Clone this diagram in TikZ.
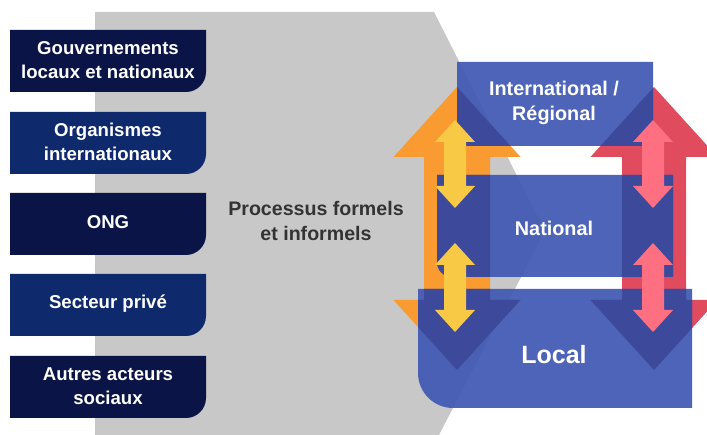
\documentclass[tikz,border=0pt]{standalone}
\usepackage{fontspec}
\setmainfont{Liberation Sans}
\definecolor{navy}{HTML}{0B1446}
\definecolor{navyb}{HTML}{0E2A6D}
\definecolor{procgray}{HTML}{C8C8C8}
\definecolor{boxblue}{HTML}{4159B4}
\definecolor{overblue}{HTML}{3D4A9C}
\definecolor{arrorange}{HTML}{F99B30}
\definecolor{arrred}{HTML}{E04B5E}
\definecolor{arryellow}{HTML}{F8C945}
\definecolor{arrpink}{HTML}{FF6F82}
\definecolor{txtgray}{HTML}{333333}
% left actor box: #1 top y
\newcommand{\actorpath}[1]{(10,#1) -- (206,#1) -- (206,#1+42) .. controls (206,#1+53) and (197,#1+62) .. (186,#1+62) -- (10,#1+62) -- cycle}
% double arrow: cx, top tip, head length, bottom tip, head half width, shaft half width
\newcommand{\dblpath}[6]{(#1,#2) -- (#1+#5,#2+#3) -- (#1+#6,#2+#3) -- (#1+#6,#4-#3) -- (#1+#5,#4-#3) -- (#1,#4) -- (#1-#5,#4-#3) -- (#1-#6,#4-#3) -- (#1-#6,#2+#3) -- (#1-#5,#2+#3) -- cycle}
\newcommand{\intlpath}{(457,62) -- (653,62) -- (653,146) -- (467,146) .. controls (461.5,146) and (457,141.5) .. (457,136) -- cycle}
\newcommand{\natlpath}{(437,175) -- (673,175) -- (673,277) -- (452,277) .. controls (443.7,277) and (437,270.3) .. (437,262) -- cycle}
\newcommand{\localpath}{(418,289) -- (692,289) -- (692,408) -- (453,408) .. controls (433.7,408) and (418,392.3) .. (418,373) -- cycle}
\begin{document}
\begin{tikzpicture}[x=1pt,y=-1pt,
  actor/.style={text=white,font=\bfseries\fontsize{18.6}{24}\selectfont,align=center,inner sep=0pt},
  proctext/.style={text=txtgray,font=\bfseries\fontsize{19.6}{25}\selectfont,align=center,inner sep=0pt},
  leveltext/.style={text=white,font=\bfseries\fontsize{19.8}{25}\selectfont,align=center,inner sep=0pt},
  leveltextbig/.style={text=white,font=\bfseries\fontsize{25}{30}\selectfont,align=center,inner sep=0pt},
  levelbox/.style={fill=boxblue,fill opacity=0.93}]
\useasboundingbox (0,0) rectangle (707,435);
\clip (0,0) rectangle (707,435);
\fill[white] (0,0) rectangle (707,435);
% grey process band
\fill[procgray] (95,12) -- (434,12) -- (545,231) -- (439,435) -- (95,435) -- cycle;
% actors
\fill[navy]  \actorpath{30};
\fill[navyb] \actorpath{112};
\fill[navy]  \actorpath{193};
\fill[navyb] \actorpath{274};
\fill[navy]  \actorpath{356};
\node[actor] (g1) at (108,60) {Gouvernements\\locaux et nationaux};
\node[actor] (g2) at (108,142) {Organismes\\internationaux};
\node[actor] (g3) at (108,222) {ONG};
\node[actor] (g4) at (108,304) {Secteur privé};
\node[actor] (g5) at (108,386) {Autres acteurs\\sociaux};
\node[proctext] (proc) at (316,221) {Processus formels\\et informels};
% big arrows
\fill[arrorange] \dblpath{457}{87}{70}{370}{63.5}{33};
\fill[arrred] \dblpath{654}{87}{70}{370}{63.5}{32};
% level boxes
\fill[levelbox] \intlpath;
\fill[levelbox] \natlpath;
\fill[levelbox] \localpath;
\begin{scope}
  \clip \intlpath \natlpath \localpath;
  \fill[overblue] \dblpath{457}{87}{70}{370}{63.5}{33};
  \fill[overblue] \dblpath{654}{87}{70}{370}{63.5}{32};
\end{scope}
% small arrows
\fill[arryellow] \dblpath{455}{120}{22}{208}{20}{11};
\fill[arryellow] \dblpath{455}{243}{22}{332}{20}{11};
\fill[arrpink] \dblpath{653}{120}{22}{208}{20}{11};
\fill[arrpink] \dblpath{653}{243}{22}{332}{20}{11};
% level labels
\node[leveltext] (intl) at (554,103) {International /\\Régional};
\node[leveltext] (natl) at (554,228) {National};
\node[leveltextbig] (local) at (554,355) {Local};
\end{tikzpicture}
\end{document}
